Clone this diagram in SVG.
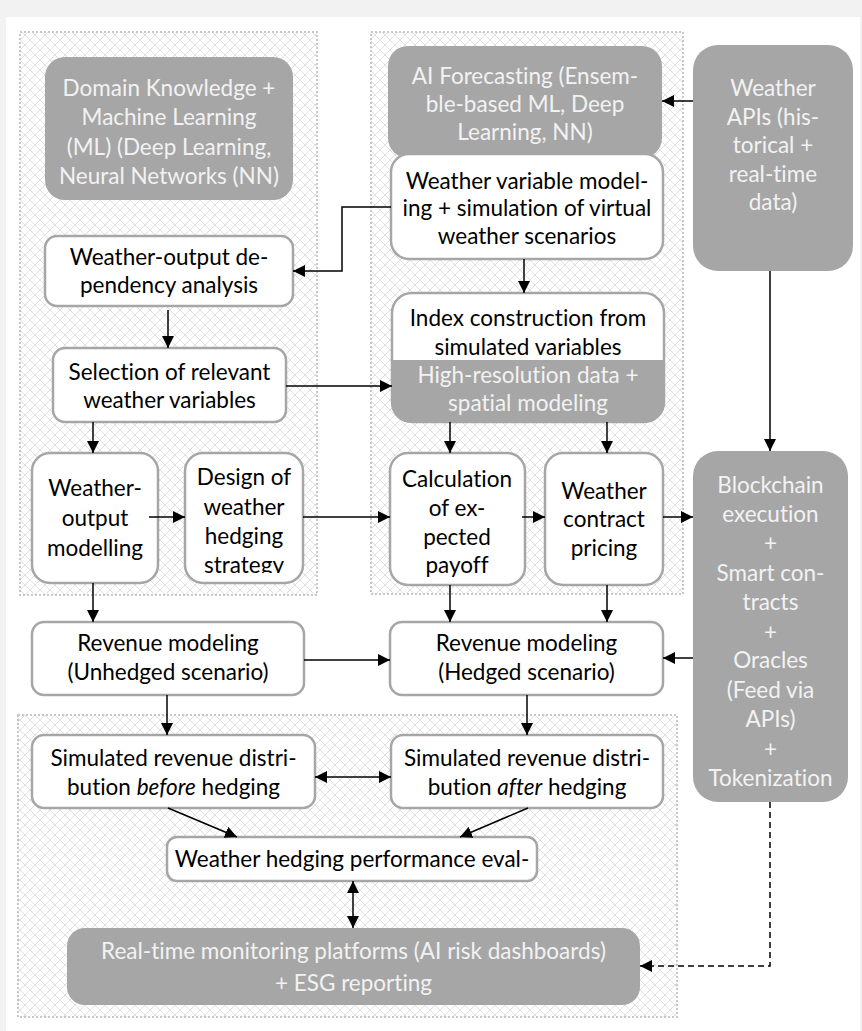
<svg xmlns="http://www.w3.org/2000/svg" width="862" height="1031" viewBox="0 0 862 1031">
<style>
.t{font-family:Lato,"Liberation Sans",sans-serif;font-size:22.5px;fill:#000;text-anchor:middle;font-variant-ligatures:none}
.tw{font-family:Lato,"Liberation Sans",sans-serif;font-size:22.5px;fill:#f2f2f2;text-anchor:middle;font-variant-ligatures:none}
.wb{fill:#fff;stroke:#a6a6a6;stroke-width:2.5}
.gb{fill:#a6a6a6;stroke:none}
.panel{fill:url(#hatch);stroke:#c8c8c8;stroke-width:2;stroke-dasharray:2 2}
.c{fill:none;stroke:#000;stroke-width:1.5}
</style>
<defs>
<pattern id="hatch" width="10" height="10" patternUnits="userSpaceOnUse">
<path d="M0,0 L10,10 M10,0 L0,10" stroke="#e0e0e0" stroke-width="1" fill="none"/>
</pattern>
<marker id="ah" viewBox="0 0 12 12" refX="12" refY="6" markerWidth="12" markerHeight="12" markerUnits="userSpaceOnUse" orient="auto-start-reverse">
<path d="M0,0 L12,6 L0,12 z" fill="#000"/>
</marker>
<clipPath id="clipDesign"><rect x="185" y="453" width="118" height="120"/></clipPath>
</defs>
<rect x="0" y="0" width="862" height="1031" fill="#f2f2f2"/>
<rect x="6" y="17" width="854" height="1014" fill="#fff"/>
<g id="panels">
<rect class="panel" x="20" y="32" width="297" height="563"/>
<rect class="panel" x="371" y="32" width="312" height="562"/>
<rect class="panel" x="18" y="715" width="659" height="302"/>
</g>
<g id="n-domain">
<rect class="gb" x="45" y="57" width="248" height="143" rx="20"/>
<text class="tw"><tspan x="169" y="96">Domain Knowledge +</tspan><tspan x="169" y="125">Machine Learning</tspan><tspan x="169" y="155">(ML) (Deep Learning,</tspan><tspan x="169" y="184">Neural Networks (NN)</tspan></text>
</g>
<g id="n-ai">
<rect class="gb" x="388" y="46" width="274" height="112" rx="20"/>
<text class="tw"><tspan x="525" y="84">AI Forecasting (Ensem-</tspan><tspan x="525" y="112">ble-based ML, Deep</tspan><tspan x="525" y="140">Learning, NN)</tspan></text>
</g>
<g id="n-wvar">
<rect class="wb" x="391" y="154" width="272" height="105" rx="18"/>
<text class="t"><tspan x="527" y="189">Weather variable model-</tspan><tspan x="527" y="216">ing + simulation of virtual</tspan><tspan x="527" y="244">weather scenarios</tspan></text>
</g>
<g id="n-apis">
<rect class="gb" x="693" y="45" width="160" height="226" rx="25"/>
<text class="tw"><tspan x="773" y="96">Weather</tspan><tspan x="773" y="125">APIs (his-</tspan><tspan x="773" y="153">torical +</tspan><tspan x="773" y="182">real-time</tspan><tspan x="773" y="210">data)</tspan></text>
</g>
<g id="n-dep">
<rect class="wb" x="45" y="236" width="248" height="70" rx="12"/>
<text class="t"><tspan x="169" y="265">Weather-output de-</tspan><tspan x="169" y="293">pendency analysis</tspan></text>
</g>
<g id="n-sel">
<rect class="wb" x="53" y="348" width="233" height="74" rx="12"/>
<text class="t"><tspan x="169.5" y="380">Selection of relevant</tspan><tspan x="169.5" y="408">weather variables</tspan></text>
</g>
<g id="n-wom">
<rect class="wb" x="32" y="453" width="126" height="130" rx="18"/>
<text class="t"><tspan x="95" y="496">Weather-</tspan><tspan x="95" y="526">output</tspan><tspan x="95" y="556">modelling</tspan></text>
</g>
<g id="n-design">
<rect class="wb" x="185" y="453" width="118" height="130" rx="18"/>
<text class="t" clip-path="url(#clipDesign)"><tspan x="244" y="485">Design of</tspan><tspan x="244" y="515">weather</tspan><tspan x="244" y="544">hedging</tspan><tspan x="244" y="573">strategy</tspan></text>
</g>
<g id="n-index">
<rect class="gb" x="392" y="293" width="272" height="129" rx="20"/>
<path d="M392,360 L392,313 A20,20 0 0 1 412,293 L644,293 A20,20 0 0 1 664,313 L664,360 Z" fill="#fff"/>
<rect x="392" y="293" width="272" height="129" rx="20" fill="none" stroke="#a6a6a6" stroke-width="2.5"/>
<text class="t"><tspan x="528" y="326">Index construction from</tspan><tspan x="528" y="355">simulated variables</tspan></text>
<text class="tw"><tspan x="528" y="383">High-resolution data +</tspan><tspan x="528" y="411">spatial modeling</tspan></text>
</g>
<g id="n-calc">
<rect class="wb" x="390" y="453" width="135" height="132" rx="18"/>
<text class="t"><tspan x="457" y="487">Calculation</tspan><tspan x="457" y="516">of ex-</tspan><tspan x="457" y="545">pected</tspan><tspan x="457" y="573">payoff</tspan></text>
</g>
<g id="n-price">
<rect class="wb" x="545" y="453" width="118" height="132" rx="18"/>
<text class="t"><tspan x="604" y="499">Weather</tspan><tspan x="604" y="527">contract</tspan><tspan x="604" y="556">pricing</tspan></text>
</g>
<g id="n-chain">
<rect class="gb" x="693" y="451" width="155" height="351" rx="25"/>
<text class="tw"><tspan x="770.5" y="493">Blockchain</tspan><tspan x="770.5" y="522">execution</tspan><tspan x="770.5" y="551">+</tspan><tspan x="770.5" y="581">Smart con-</tspan><tspan x="770.5" y="610">tracts</tspan><tspan x="770.5" y="640">+</tspan><tspan x="770.5" y="668">Oracles</tspan><tspan x="770.5" y="698">(Feed via</tspan><tspan x="770.5" y="727">APIs)</tspan><tspan x="770.5" y="757">+</tspan><tspan x="770.5" y="786">Tokenization</tspan></text>
</g>
<g id="n-unhedged">
<rect class="wb" x="32" y="622" width="272" height="73" rx="12"/>
<text class="t"><tspan x="168" y="651">Revenue modeling</tspan><tspan x="168" y="680">(Unhedged scenario)</tspan></text>
</g>
<g id="n-hedged">
<rect class="wb" x="390" y="622" width="273" height="73" rx="12"/>
<text class="t"><tspan x="526.5" y="651">Revenue modeling</tspan><tspan x="526.5" y="680">(Hedged scenario)</tspan></text>
</g>
<g id="n-before">
<rect class="wb" x="32" y="735" width="283" height="73" rx="12"/>
<text class="t"><tspan x="173.5" y="766">Simulated revenue distri-</tspan><tspan x="173.5" y="795">bution <tspan font-style="italic">before</tspan> hedging</tspan></text>
</g>
<g id="n-after">
<rect class="wb" x="391" y="735" width="272" height="73" rx="12"/>
<text class="t"><tspan x="527" y="766">Simulated revenue distri-</tspan><tspan x="527" y="795">bution <tspan font-style="italic">after</tspan> hedging</tspan></text>
</g>
<g id="n-eval">
<rect class="wb" x="167" y="837" width="370" height="44" rx="10"/>
<text class="t" x="352" y="867">Weather hedging performance eval-</text>
</g>
<g id="n-monitor">
<rect class="gb" x="67" y="928" width="573" height="77" rx="18"/>
<text class="tw"><tspan x="353.5" y="959">Real-time monitoring platforms (AI risk dashboards)</tspan><tspan x="353.5" y="991">+ ESG reporting</tspan></text>
</g>
<g id="connectors">
<path class="c" d="M693,101 L662,101" marker-end="url(#ah)"/>
<path class="c" d="M391,207 L342,207 L342,271 L293,271" marker-end="url(#ah)"/>
<path class="c" d="M524,259 L524,293" marker-end="url(#ah)"/>
<path class="c" d="M168,310 L168,348" marker-end="url(#ah)"/>
<path class="c" d="M286,386 L392,386" marker-end="url(#ah)"/>
<path class="c" d="M93,422 L93,453" marker-end="url(#ah)"/>
<path class="c" d="M149,517 L185,517" marker-end="url(#ah)"/>
<path class="c" d="M303,517 L390,517" marker-end="url(#ah)"/>
<path class="c" d="M450,422 L450,453" marker-end="url(#ah)"/>
<path class="c" d="M607,422 L607,453" marker-end="url(#ah)"/>
<path class="c" d="M522,517 L545,517" marker-end="url(#ah)"/>
<path class="c" d="M663,517 L693,517" marker-end="url(#ah)"/>
<path class="c" d="M770,271 L770,451" marker-end="url(#ah)"/>
<path class="c" d="M93,583 L93,622" marker-end="url(#ah)"/>
<path class="c" d="M450,585 L450,622" marker-end="url(#ah)"/>
<path class="c" d="M607,585 L607,622" marker-end="url(#ah)"/>
<path class="c" d="M693,658 L663,658" marker-end="url(#ah)"/>
<path class="c" d="M304,660 L390,660" marker-end="url(#ah)"/>
<path class="c" d="M167,695 L167,735" marker-end="url(#ah)"/>
<path class="c" d="M527,695 L527,735" marker-end="url(#ah)"/>
<path class="c" d="M315,777 L391,777" marker-start="url(#ah)" marker-end="url(#ah)"/>
<path class="c" d="M168,808 L237,837" marker-end="url(#ah)"/>
<path class="c" d="M528,808 L460,837" marker-end="url(#ah)"/>
<path class="c" d="M353,881 L353,928" marker-start="url(#ah)" marker-end="url(#ah)"/>
<path class="c" d="M770,802 L770,966 L640,966" stroke-dasharray="6 4" marker-end="url(#ah)"/>
</g>
</svg>
